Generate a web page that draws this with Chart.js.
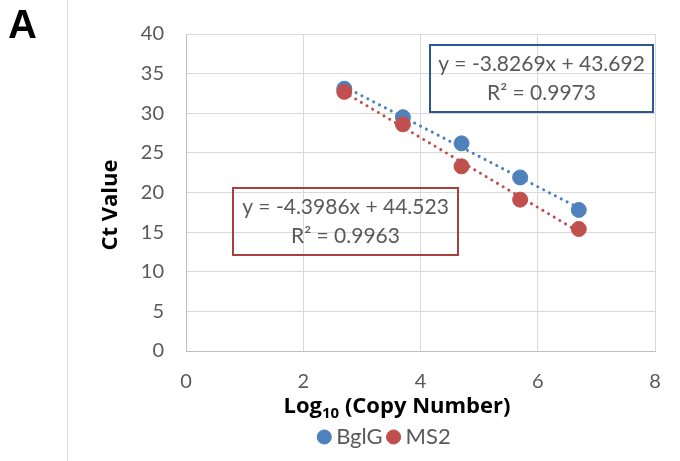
<!DOCTYPE html>
<html>
<head>
<meta charset="utf-8">
<script src="https://cdn.jsdelivr.net/npm/chart.js@4/dist/chart.umd.min.js"></script>
<style>
  html, body { margin: 0; padding: 0; background: #fff; }
  #wrap { width: 680px; height: 461px; position: relative; }
</style>
</head>
<body>
<div id="wrap"><canvas id="c" width="680" height="461"></canvas></div>
<script>
// --- data ---
const logCopies = [2.7, 3.7, 4.7, 5.7, 6.7];
const ctBglG    = [33.1, 29.5, 26.2, 21.9, 17.8];
const ctMS2     = [32.7, 28.6, 23.3, 19.1, 15.4];

// trendline end points (x = 2.7 and x = 6.7)
const trendX    = [2.7, 6.7];
const trendBglG = [33.36, 18.05];
const trendMS2  = [32.65, 15.05];

const eqBglG = ['y = -3.8269x + 43.692', 'R² = 0.9973'];
const eqMS2  = ['y = -4.3986x + 44.523', 'R² = 0.9963'];

const xTicks = [0, 2, 4, 6, 8];
const yTicks = [0, 5, 10, 15, 20, 25, 30, 35, 40];

const BLUE = '#4F81BD';
const RED  = '#C0504D';
const FONT = 'Lato, "Open Sans", sans-serif';
const BOLD = '"Open Sans", Lato, sans-serif';

const pts = (xs, ys) => xs.map((x, i) => ({ x, y: ys[i] }));

// legend sits a bit right of centre in the original
const legendShift = {
  id: 'legendShift',
  afterLayout(chart) {
    const lg = chart.legend;
    const d = 387 - (lg.left + lg.right) / 2;
    lg.left += d; lg.right += d;
  }
};

// extra text: panel letter, axis titles, equation boxes
const decor = {
  id: 'decor',
  afterDraw(chart) {
    const ctx = chart.ctx;
    ctx.save();

    // frame line left of the chart
    ctx.strokeStyle = '#d9d9d9';
    ctx.lineWidth = 1;
    ctx.beginPath(); ctx.moveTo(67.5, 0); ctx.lineTo(67.5, 461); ctx.stroke();

    ctx.fillStyle = '#000';
    ctx.font = 'bold 40px "Liberation Sans", Arial, sans-serif';
    ctx.textAlign = 'left'; ctx.textBaseline = 'alphabetic';
    ctx.fillText('A', 8, 38);

    // y title
    ctx.font = 'bold 22px ' + BOLD;
    ctx.textAlign = 'center'; ctx.textBaseline = 'middle';
    ctx.save();
    ctx.translate(111, 205);
    ctx.rotate(-Math.PI / 2);
    ctx.fillText('Ct Value', 0, 0);
    ctx.restore();

    // x title with subscript
    const a = 'Log', sub = '10', b = ' (Copy Number)';
    ctx.font = 'bold 22px ' + BOLD;
    const wa = ctx.measureText(a).width, wb = ctx.measureText(b).width;
    ctx.font = 'bold 15px ' + BOLD;
    const ws = ctx.measureText(sub).width;
    let x = 397 - (wa + ws + wb) / 2;
    const y = 413;
    ctx.textAlign = 'left'; ctx.textBaseline = 'alphabetic';
    ctx.font = 'bold 22px ' + BOLD; ctx.fillText(a, x, y); x += wa;
    ctx.font = 'bold 15px ' + BOLD; ctx.fillText(sub, x, y + 5); x += ws;
    ctx.font = 'bold 22px ' + BOLD; ctx.fillText(b, x, y);

    // equation boxes
    const box = (x0, y0, w, h, color, lines) => {
      ctx.strokeStyle = color; ctx.lineWidth = 2;
      ctx.strokeRect(x0, y0, w, h);
      ctx.fillStyle = '#595959';
      ctx.font = '21px ' + FONT;
      ctx.textAlign = 'center'; ctx.textBaseline = 'middle';
      ctx.fillText(lines[0], x0 + w / 2, y0 + 19);
      ctx.fillText(lines[1], x0 + w / 2, y0 + 48);
    };
    box(430, 45, 223, 67, '#2F5597', eqBglG);
    box(233, 188, 225, 67, '#A5403D', eqMS2);
    ctx.restore();
  }
};

new Chart(document.getElementById('c'), {
  type: 'scatter',
  data: {
    datasets: [
      { label: 'BglG', data: pts(logCopies, ctBglG), backgroundColor: BLUE, borderColor: BLUE,
        pointRadius: 7.5, pointHoverRadius: 7.5, order: 1 },
      { label: 'MS2', data: pts(logCopies, ctMS2), backgroundColor: RED, borderColor: RED,
        pointRadius: 7.5, pointHoverRadius: 7.5, order: 0 },
      { label: 'trendBglG', data: pts(trendX, trendBglG), type: 'line', showLine: true,
        borderColor: BLUE, borderWidth: 3, borderDash: [0.1, 6.5], borderCapStyle: 'round',
        pointRadius: 0, fill: false, order: 3 },
      { label: 'trendMS2', data: pts(trendX, trendMS2), type: 'line', showLine: true,
        borderColor: RED, borderWidth: 3, borderDash: [0.1, 6.5], borderCapStyle: 'round',
        pointRadius: 0, fill: false, order: 2 },
    ],
  },
  options: {
    responsive: false, animation: false,
    layout: { padding: { left: 0, right: 25, top: 30, bottom: 3 } },
    plugins: {
      tooltip: { enabled: false },
      legend: {
        position: 'bottom',
        labels: {
          usePointStyle: true, pointStyle: 'circle', boxWidth: 2, boxHeight: 10,
          padding: 10, color: '#595959', font: { family: FONT, size: 22 },
          filter: item => !item.text.startsWith('trend'),
          sort: (a, b) => a.datasetIndex - b.datasetIndex,
        },
      },
    },
    scales: {
      x: {
        type: 'linear', min: 0, max: 8,
        afterBuildTicks: s => { s.ticks = xTicks.map(v => ({ value: v })); },
        afterFit: s => { s.height = 65; },
        ticks: { color: '#595959', font: { family: FONT, size: 20 }, padding: 19 },
        grid: { color: '#d9d9d9', drawTicks: false },
        border: { color: '#bfbfbf' },
      },
      y: {
        type: 'linear', min: 0, max: 40,
        afterBuildTicks: s => { s.ticks = yTicks.map(v => ({ value: v })); },
        afterFit: s => { s.width = 186; },
        ticks: { color: '#595959', font: { family: FONT, size: 20 }, padding: 22 },
        grid: { color: '#d9d9d9', drawTicks: false },
        border: { color: '#bfbfbf' },
      },
    },
  },
  plugins: [legendShift, decor],
});
</script>
</body>
</html>
